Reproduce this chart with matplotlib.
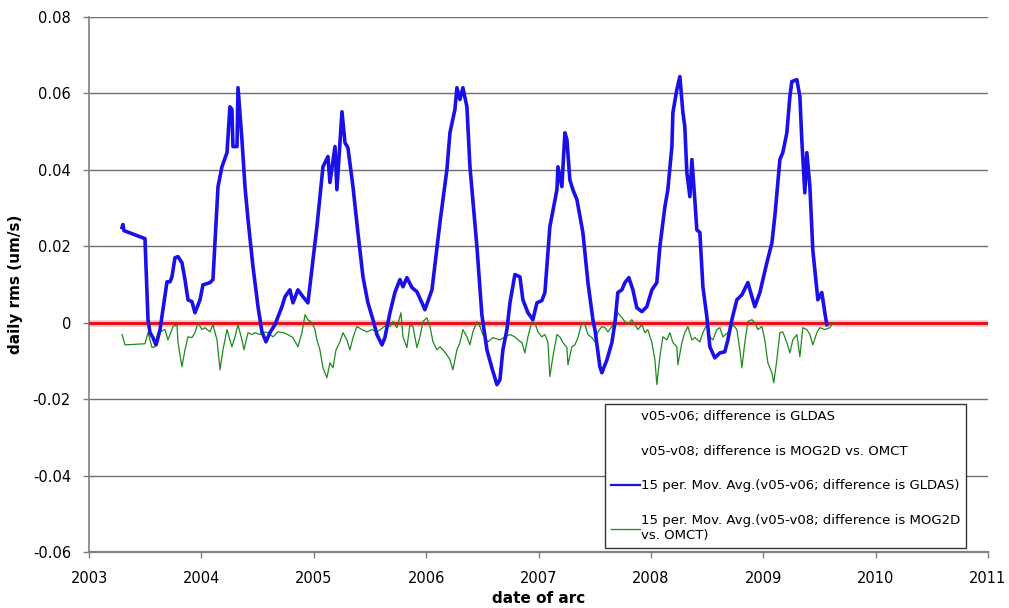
import matplotlib
matplotlib.use("Agg")
import matplotlib.pyplot as plt
from matplotlib.lines import Line2D
import numpy as np

# ---- data (decimal year, daily rms um/s) ----
gldas_years = [
    2003.294, 2003.302, 2003.311, 2003.498, 2003.525, 2003.543, 2003.569, 2003.596, 2003.614, 2003.632,
    2003.649, 2003.694, 2003.721, 2003.738, 2003.765, 2003.792, 2003.827, 2003.854, 2003.881, 2003.916,
    2003.943, 2003.988, 2004.014, 2004.077, 2004.103, 2004.148, 2004.183, 2004.228, 2004.254, 2004.272,
    2004.281, 2004.317, 2004.326, 2004.361, 2004.388, 2004.415, 2004.459, 2004.504, 2004.539, 2004.575,
    2004.610, 2004.655, 2004.717, 2004.744, 2004.788, 2004.815, 2004.859, 2004.904, 2004.948, 2004.993,
    2005.028, 2005.082, 2005.126, 2005.144, 2005.189, 2005.206, 2005.251, 2005.278, 2005.304, 2005.349,
    2005.393, 2005.438, 2005.482, 2005.527, 2005.562, 2005.607, 2005.633, 2005.678, 2005.722, 2005.767,
    2005.794, 2005.829, 2005.874, 2005.918, 2005.963, 2005.989, 2006.052, 2006.123, 2006.185, 2006.212,
    2006.256, 2006.274, 2006.301, 2006.327, 2006.363, 2006.390, 2006.452, 2006.496, 2006.541, 2006.585,
    2006.630, 2006.657, 2006.683, 2006.719, 2006.746, 2006.790, 2006.835, 2006.861, 2006.906, 2006.950,
    2006.986, 2007.030, 2007.057, 2007.101, 2007.164, 2007.173, 2007.208, 2007.235, 2007.253, 2007.279,
    2007.306, 2007.342, 2007.395, 2007.440, 2007.484, 2007.502, 2007.546, 2007.564, 2007.609, 2007.653,
    2007.680, 2007.706, 2007.742, 2007.769, 2007.804, 2007.840, 2007.875, 2007.920, 2007.964, 2008.009,
    2008.053, 2008.080, 2008.125, 2008.151, 2008.187, 2008.196, 2008.231, 2008.258, 2008.285, 2008.302,
    2008.320, 2008.347, 2008.365, 2008.391, 2008.409, 2008.436, 2008.463, 2008.498, 2008.525, 2008.569,
    2008.614, 2008.658, 2008.685, 2008.721, 2008.765, 2008.810, 2008.863, 2008.925, 2008.970, 2009.032,
    2009.077, 2009.103, 2009.148, 2009.174, 2009.210, 2009.237, 2009.254, 2009.299, 2009.326, 2009.343,
    2009.370, 2009.388, 2009.415, 2009.441, 2009.486, 2009.521, 2009.548, 2009.566,
]
gldas_avg = [
    0.0249, 0.0257, 0.0241, 0.0220, 0.0008, -0.0026, -0.0039, -0.0058, -0.0039, -0.0018,
    0.0016, 0.0107, 0.0107, 0.0120, 0.0170, 0.0173, 0.0157, 0.0113, 0.0060, 0.0055,
    0.0026, 0.0060, 0.0099, 0.0105, 0.0113, 0.0356, 0.0408, 0.0445, 0.0565, 0.0558,
    0.0461, 0.0461, 0.0615, 0.0479, 0.0356, 0.0270, 0.0147, 0.0042, -0.0024, -0.0050,
    -0.0026, -0.0005, 0.0042, 0.0068, 0.0086, 0.0052, 0.0086, 0.0068, 0.0052, 0.0165,
    0.0251, 0.0408, 0.0435, 0.0367, 0.0461, 0.0348, 0.0552, 0.0471, 0.0458, 0.0356,
    0.0236, 0.0120, 0.0052, 0.0008, -0.0031, -0.0058, -0.0039, 0.0026, 0.0079, 0.0113,
    0.0094, 0.0118, 0.0092, 0.0081, 0.0052, 0.0034, 0.0086, 0.0262, 0.0401, 0.0497,
    0.0558, 0.0615, 0.0584, 0.0615, 0.0565, 0.0408, 0.0199, 0.0021, -0.0071, -0.0118,
    -0.0162, -0.0149, -0.0071, -0.0018, 0.0052, 0.0126, 0.0120, 0.0060, 0.0026, 0.0008,
    0.0052, 0.0058, 0.0079, 0.0251, 0.0348, 0.0408, 0.0356, 0.0497, 0.0479, 0.0374,
    0.0348, 0.0322, 0.0236, 0.0105, 0.0008, -0.0018, -0.0115, -0.0131, -0.0097, -0.0052,
    0.0000, 0.0079, 0.0086, 0.0105, 0.0118, 0.0086, 0.0039, 0.0029, 0.0042, 0.0086,
    0.0105, 0.0199, 0.0304, 0.0348, 0.0461, 0.0550, 0.0610, 0.0644, 0.0550, 0.0513,
    0.0393, 0.0330, 0.0427, 0.0322, 0.0243, 0.0236, 0.0094, 0.0016, -0.0063, -0.0092,
    -0.0079, -0.0076, -0.0045, 0.0008, 0.0060, 0.0073, 0.0105, 0.0042, 0.0079, 0.0157,
    0.0209, 0.0278, 0.0427, 0.0445, 0.0497, 0.0592, 0.0631, 0.0636, 0.0592, 0.0479,
    0.0340, 0.0445, 0.0356, 0.0191, 0.0060, 0.0079, 0.0026, -0.0005,
]

ocean_years = [
    2003.294, 2003.320, 2003.498, 2003.525, 2003.561, 2003.587, 2003.614, 2003.676, 2003.703, 2003.747,
    2003.783, 2003.792, 2003.827, 2003.854, 2003.881, 2003.916, 2003.943, 2003.970, 2004.005, 2004.032,
    2004.077, 2004.103, 2004.139, 2004.166, 2004.192, 2004.228, 2004.272, 2004.299, 2004.326, 2004.361,
    2004.379, 2004.415, 2004.450, 2004.477, 2004.521, 2004.548, 2004.593, 2004.637, 2004.682, 2004.726,
    2004.770, 2004.815, 2004.859, 2004.895, 2004.922, 2004.948, 2004.984, 2005.011, 2005.028, 2005.055,
    2005.082, 2005.117, 2005.144, 2005.171, 2005.198, 2005.233, 2005.260, 2005.295, 2005.322, 2005.349,
    2005.384, 2005.429, 2005.473, 2005.518, 2005.562, 2005.616, 2005.651, 2005.678, 2005.705, 2005.740,
    2005.776, 2005.794, 2005.829, 2005.856, 2005.883, 2005.918, 2005.945, 2005.972, 2006.007, 2006.034,
    2006.061, 2006.096, 2006.123, 2006.150, 2006.185, 2006.212, 2006.238, 2006.274, 2006.301, 2006.327,
    2006.363, 2006.390, 2006.416, 2006.452, 2006.479, 2006.505, 2006.550, 2006.594, 2006.657, 2006.701,
    2006.746, 2006.790, 2006.817, 2006.852, 2006.879, 2006.906, 2006.941, 2006.968, 2006.995, 2007.030,
    2007.057, 2007.084, 2007.101, 2007.128, 2007.164, 2007.190, 2007.217, 2007.253, 2007.262, 2007.297,
    2007.324, 2007.351, 2007.386, 2007.413, 2007.440, 2007.475, 2007.502, 2007.529, 2007.564, 2007.591,
    2007.618, 2007.653, 2007.680, 2007.706, 2007.742, 2007.769, 2007.796, 2007.831, 2007.858, 2007.885,
    2007.920, 2007.947, 2007.973, 2008.009, 2008.036, 2008.053, 2008.080, 2008.107, 2008.143, 2008.169,
    2008.196, 2008.231, 2008.240, 2008.276, 2008.302, 2008.329, 2008.365, 2008.391, 2008.436, 2008.463,
    2008.498, 2008.525, 2008.552, 2008.587, 2008.614, 2008.641, 2008.685, 2008.730, 2008.765, 2008.792,
    2008.810, 2008.836, 2008.863, 2008.899, 2008.925, 2008.952, 2008.988, 2009.014, 2009.041, 2009.077,
    2009.094, 2009.121, 2009.148, 2009.174, 2009.210, 2009.237, 2009.263, 2009.299, 2009.326, 2009.352,
    2009.388, 2009.415, 2009.441, 2009.477, 2009.504, 2009.548, 2009.593, 2009.619,
]
ocean_avg = [
    -0.0031, -0.0058, -0.0055, -0.0026, -0.0065, -0.0063, -0.0026, -0.0018, -0.0045, -0.0010,
    -0.0005, -0.0052, -0.0115, -0.0071, -0.0037, -0.0039, -0.0026, 0.0000, -0.0018, -0.0013,
    -0.0024, -0.0005, -0.0045, -0.0123, -0.0071, -0.0018, -0.0063, -0.0037, -0.0005, -0.0045,
    -0.0071, -0.0026, -0.0031, -0.0026, -0.0031, -0.0024, -0.0026, -0.0037, -0.0024, -0.0026,
    -0.0031, -0.0039, -0.0063, -0.0026, 0.0021, 0.0008, 0.0000, -0.0018, -0.0045, -0.0071,
    -0.0118, -0.0144, -0.0105, -0.0118, -0.0071, -0.0050, -0.0026, -0.0045, -0.0071, -0.0039,
    -0.0010, -0.0018, -0.0024, -0.0018, -0.0024, -0.0013, -0.0005, -0.0010, 0.0003, -0.0013,
    0.0026, -0.0037, -0.0065, -0.0005, -0.0010, -0.0065, -0.0037, 0.0003, 0.0013, -0.0010,
    -0.0050, -0.0071, -0.0063, -0.0071, -0.0084, -0.0097, -0.0123, -0.0071, -0.0052, -0.0018,
    -0.0037, -0.0058, -0.0024, 0.0003, -0.0010, -0.0031, -0.0050, -0.0039, -0.0045, -0.0037,
    -0.0031, -0.0037, -0.0045, -0.0052, -0.0079, -0.0037, 0.0003, 0.0000, -0.0024, -0.0037,
    -0.0031, -0.0052, -0.0141, -0.0089, -0.0031, -0.0037, -0.0052, -0.0065, -0.0110, -0.0063,
    -0.0058, -0.0039, 0.0000, -0.0005, -0.0031, -0.0039, -0.0050, -0.0024, -0.0010, -0.0013,
    -0.0024, -0.0010, -0.0005, 0.0026, 0.0013, 0.0003, -0.0005, 0.0008, -0.0005, -0.0018,
    -0.0005, -0.0026, -0.0018, -0.0052, -0.0097, -0.0162, -0.0089, -0.0037, -0.0045, -0.0026,
    -0.0052, -0.0063, -0.0110, -0.0052, -0.0026, -0.0010, -0.0045, -0.0039, -0.0050, -0.0026,
    -0.0005, -0.0037, -0.0045, -0.0018, -0.0013, -0.0037, -0.0026, -0.0005, -0.0018, -0.0071,
    -0.0118, -0.0052, 0.0003, 0.0008, 0.0000, -0.0018, -0.0010, -0.0045, -0.0105, -0.0131,
    -0.0157, -0.0097, -0.0026, -0.0024, -0.0052, -0.0079, -0.0045, -0.0031, -0.0089, -0.0013,
    -0.0018, -0.0031, -0.0058, -0.0026, -0.0013, -0.0018, -0.0013, 0.0000,
]

x_ticks = [2003, 2004, 2005, 2006, 2007, 2008, 2009, 2010, 2011]
y_ticks = [-0.06, -0.04, -0.02, 0, 0.02, 0.04, 0.06, 0.08]
y_tick_labels = ["-0.06", "-0.04", "-0.02", "0", "0.02", "0.04", "0.06", "0.08"]

legend_labels = [
    "v05-v06; difference is GLDAS",
    "v05-v08; difference is MOG2D vs. OMCT",
    "15 per. Mov. Avg.(v05-v06; difference is GLDAS)",
    "15 per. Mov. Avg.(v05-v08; difference is MOG2D\nvs. OMCT)",
]

# ---- figure ----
plt.rcParams["font.family"] = ["DejaVu Sans"]
fig = plt.figure(figsize=(10.09, 6.08), dpi=100)
ax = fig.add_axes([89 / 1009, 1 - 552 / 608, (988 - 89) / 1009, (552 - 17) / 608])

ax.set_xlim(2003, 2011)
ax.set_ylim(-0.06, 0.08)
ax.set_xticks(x_ticks)
ax.set_xticklabels([str(t) for t in x_ticks])
ax.set_yticks(y_ticks)
ax.set_yticklabels(y_tick_labels)

ax.grid(axis="y", color="#6e6e6e", linewidth=1.0)
ax.set_axisbelow(True)
for s in ["top", "right"]:
    ax.spines[s].set_visible(False)
ax.spines["left"].set_color("#808080")
ax.spines["left"].set_linewidth(1.2)
ax.spines["bottom"].set_color("#808080")
ax.spines["bottom"].set_linewidth(1.6)
ax.tick_params(axis="both", labelsize=10.5, colors="#808080", labelcolor="black",
               length=4, width=1.0)
ax.tick_params(axis="x", pad=10)
ax.tick_params(axis="y", pad=9)

# zero reference line with soft glow
ax.axhline(0, color="#f4a3a6", linewidth=5, alpha=0.55, zorder=2)
ax.axhline(0, color="#e3141c", linewidth=2.2, zorder=3)

ax.plot(ocean_years, ocean_avg, color="#1e8a1e", linewidth=0.9, zorder=4)
ax.plot(gldas_years, gldas_avg, color="#1a10e8", linewidth=2.6, zorder=5,
        solid_joinstyle="round")

ax.set_ylabel("daily rms (um/s)", fontsize=11, fontweight="bold", labelpad=7)
ax.set_xlabel("date of arc", fontsize=11, fontweight="bold", labelpad=3)

handles = [
    Line2D([], [], color="none"),
    Line2D([], [], color="none"),
    Line2D([], [], color="#1a10e8", linewidth=1.6),
    Line2D([], [], color="#1e8a1e", linewidth=0.9),
]
leg = ax.legend(handles, legend_labels, loc="upper left",
                bbox_to_anchor=(605 / 1009, 1 - 404 / 608),
                bbox_transform=fig.transFigure, fontsize=9.5,
                frameon=True, fancybox=False, framealpha=1,
                edgecolor="#333333", handlelength=2.2, handletextpad=0.1,
                labelspacing=1.65, borderpad=0.45, borderaxespad=0)
leg.get_frame().set_linewidth(1.0)
leg.set_zorder(10)

fig.savefig("out.png", dpi=100)
